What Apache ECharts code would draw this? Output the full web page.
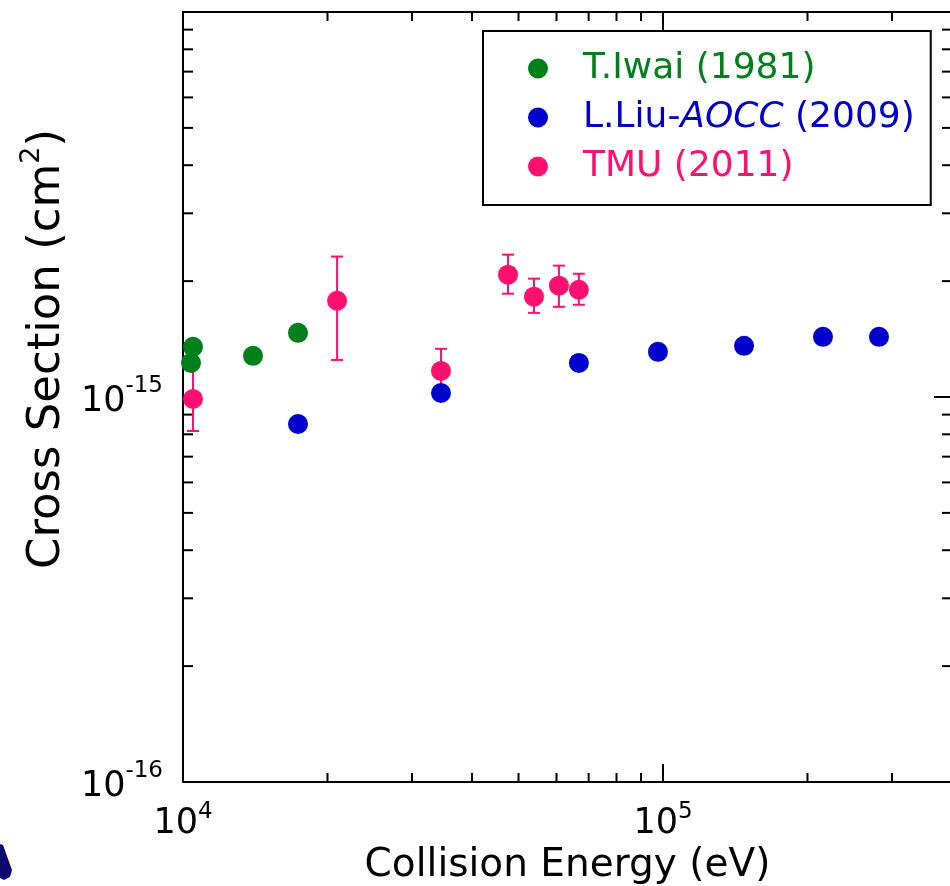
<!DOCTYPE html>
<html>
<head>
<meta charset="utf-8">
<script src="https://cdn.jsdelivr.net/npm/echarts@6/dist/echarts.min.js"></script>
<style>html,body{margin:0;padding:0;background:#fff}#c{width:950px;height:886px}</style>
</head>
<body>
<div id="c"></div>
<script>
// ---- data ----
const iwaiE  = [10490, 10390, 13990, 17360];
const iwaiCS = [1.35e-15, 1.226e-15, 1.279e-15, 1.468e-15];

const liuE  = [17360, 34470, 66800, 97600, 147500, 215400, 281800];
const liuCS = [0.851e-15, 1.024e-15, 1.226e-15, 1.31e-15, 1.358e-15, 1.433e-15, 1.433e-15];

const tmuE    = [10490, 20940, 34470, 47550, 53860, 60700, 66800];
const tmuCS   = [0.988e-15, 1.778e-15, 1.169e-15, 2.079e-15, 1.822e-15, 1.946e-15, 1.899e-15];
const tmuLow  = [0.816e-15, 1.248e-15, 1.024e-15, 1.855e-15, 1.654e-15, 1.715e-15, 1.736e-15];
const tmuHigh = [1.197e-15, 2.316e-15, 1.334e-15, 2.343e-15, 2.030e-15, 2.194e-15, 2.090e-15];

const seriesNames = ['T.Iwai (1981)', 'L.Liu-AOCC (2009)', 'TMU (2011)'];

const xMin = 1e4, xMax = 4e5, yMin = 1e-16, yMax = 1e-14;
const xMajorTicks = [1e4, 1e5];
const xMinorTicks = [2e4, 3e4, 4e4, 5e4, 6e4, 7e4, 8e4, 9e4, 2e5, 3e5];
const yMajorTicks = [1e-16, 1e-15, 1e-14];
const yMinorTicks = [2e-16, 3e-16, 4e-16, 5e-16, 6e-16, 7e-16, 8e-16, 9e-16,
                     2e-15, 3e-15, 4e-15, 5e-15, 6e-15, 7e-15, 8e-15, 9e-15];

// ---- styling ----
const FONT = 'DejaVu Sans';
const GREEN = '#00801a', BLUE = '#0000cc', PINK = '#ff0f6e';

const zip = (a, b) => a.map((v, i) => [v, b[i]]);
const isDecade = v => Math.abs(Math.log10(v) - Math.round(Math.log10(v))) < 1e-6;

const chart = echarts.init(document.getElementById('c'), null, {renderer: 'canvas'});

const xTickData = xMajorTicks.map(v => [v, yMin, 1]).concat(xMinorTicks.map(v => [v, yMin, 0]));
const yTickData = yMajorTicks.map(v => [xMin, v, 1]).concat(yMinorTicks.map(v => [xMin, v, 0]));

function tickStyle() { return {stroke: '#000', lineWidth: 2}; }

const LFS = 36;
const option = {
  backgroundColor: '#fff',
  animation: false,
  textStyle: {fontFamily: FONT},
  grid: {left: 183, top: 12, width: 769, height: 770, show: true,
         containLabel: false, outerBoundsMode: 'none',
         borderColor: '#000', borderWidth: 2, backgroundColor: 'transparent'},
  xAxis: {
    type: 'log', logBase: 10, min: xMin, max: xMax,
    axisLine: {show: false}, axisTick: {show: false}, splitLine: {show: false},
    axisLabel: {
      margin: 19,
      formatter: v => isDecade(v) ? '{b|10}{s|' + Math.round(Math.log10(v)) + '}' : '',
      rich: {
        b: {fontFamily: FONT, fontSize: 35, color: '#000', lineHeight: 40, verticalAlign: 'bottom'},
        s: {fontFamily: FONT, fontSize: 23, color: '#000', lineHeight: 40, verticalAlign: 'top'}
      }
    },
    name: 'Collision Energy (eV)', nameLocation: 'middle', nameGap: 64,
    nameTextStyle: {fontFamily: FONT, fontSize: 39, color: '#000'}
  },
  yAxis: {
    type: 'log', logBase: 10, min: yMin, max: yMax,
    axisLine: {show: false}, axisTick: {show: false}, splitLine: {show: false},
    axisLabel: {
      margin: 20,
      formatter: v => isDecade(v) && Math.abs(v - yMax) / yMax > 1e-6
        ? '{b|10}{s|' + Math.round(Math.log10(v)) + '}' : '',
      rich: {
        b: {fontFamily: FONT, fontSize: 35, color: '#000', lineHeight: 44, verticalAlign: 'bottom'},
        s: {fontFamily: FONT, fontSize: 23, color: '#000', lineHeight: 44, verticalAlign: 'top'}
      }
    }
  },
  legend: {
    orient: 'vertical', left: 483, top: 31,
    padding: [19, 16, 20, 45],
    itemWidth: 20, itemHeight: 20, itemGap: 12,
    borderColor: '#000', borderWidth: 2, backgroundColor: '#fff',
    icon: 'circle',
    data: [
      {name: seriesNames[0]},
      {name: seriesNames[1]},
      {name: seriesNames[2]}
    ],
    formatter: name => {
      if (name === seriesNames[0]) return '{sp|}{g|' + name + '}';
      if (name === seriesNames[1]) return '{sp|}{b|L.Liu-}{bi|AOCC}{b| (2009)}';
      return '{sp|}{p|' + name + '}';
    },
    textStyle: {fontFamily: FONT, fontSize: LFS, lineHeight: 37,
      rich: {
        sp: {width: 30, lineHeight: 37},
        g: {fontFamily: FONT, fontSize: LFS, color: GREEN, lineHeight: 37},
        b: {fontFamily: FONT, fontSize: LFS, color: BLUE, lineHeight: 37},
        bi: {fontFamily: FONT, fontSize: LFS, color: BLUE, fontStyle: 'italic', lineHeight: 37},
        p: {fontFamily: FONT, fontSize: LFS, color: PINK, lineHeight: 37}
      }
    }
  },
  graphic: [
    {
      type: 'text', z: 10,
      rotation: Math.PI / 2,
      x: 44, y: 349,
      style: {
        text: '{t|Cross Section (cm}{s|2}{t|)}',
        rich: {
          t: {fontFamily: FONT, fontSize: 45, fill: '#000', lineHeight: 52, verticalAlign: 'bottom'},
          s: {fontFamily: FONT, fontSize: 27, fill: '#000', lineHeight: 52, verticalAlign: 'top'}
        },
        align: 'center', verticalAlign: 'middle'
      }
    },
    {
      type: 'polygon', z: 10,
      shape: {points: [[0, 844], [3, 845], [12, 870], [10, 877], [4, 880], [0, 878]]},
      style: {fill: '#0c0a6e'}
    }
  ],
  series: [
    {
      type: 'custom', name: 'xticks', silent: true, clip: false, z: 5,
      data: xTickData,
      renderItem: (params, api) => {
        const v = api.value(0), major = api.value(2);
        const len = major ? 18 : 9;
        const b = api.coord([v, yMin]), t = api.coord([v, yMax]);
        return {type: 'group', children: [
          {type: 'line', shape: {x1: b[0], y1: b[1], x2: b[0], y2: b[1] - len}, style: tickStyle()},
          {type: 'line', shape: {x1: t[0], y1: t[1], x2: t[0], y2: t[1] + len}, style: tickStyle()}
        ]};
      }
    },
    {
      type: 'custom', name: 'yticks', silent: true, clip: false, z: 5,
      data: yTickData,
      renderItem: (params, api) => {
        const v = api.value(1), major = api.value(2);
        const len = major ? 18 : 10;
        const l = api.coord([xMin, v]), r = api.coord([xMax, v]);
        return {type: 'group', children: [
          {type: 'line', shape: {x1: l[0], y1: l[1], x2: l[0] + len, y2: l[1]}, style: tickStyle()},
          {type: 'line', shape: {x1: r[0], y1: r[1], x2: r[0] - len, y2: r[1]}, style: tickStyle()}
        ]};
      }
    },
    {
      type: 'custom', name: 'tmuErr', silent: true, z: 6,
      data: tmuE.map((e, i) => [e, tmuLow[i], tmuHigh[i]]),
      renderItem: (params, api) => {
        const lo = api.coord([api.value(0), api.value(1)]);
        const hi = api.coord([api.value(0), api.value(2)]);
        const w = 6;
        const st = {stroke: PINK, lineWidth: 2};
        return {type: 'group', children: [
          {type: 'line', shape: {x1: lo[0], y1: lo[1], x2: hi[0], y2: hi[1]}, style: st},
          {type: 'line', shape: {x1: lo[0] - w, y1: lo[1], x2: lo[0] + w, y2: lo[1]}, style: st},
          {type: 'line', shape: {x1: hi[0] - w, y1: hi[1], x2: hi[0] + w, y2: hi[1]}, style: st}
        ]};
      }
    },
    {type: 'scatter', name: seriesNames[2], data: zip(tmuE, tmuCS), symbol: 'circle', symbolSize: 20,
     itemStyle: {color: PINK, opacity: 1}, z: 7},
    {type: 'scatter', name: seriesNames[1], data: zip(liuE, liuCS), symbol: 'circle', symbolSize: 20,
     itemStyle: {color: BLUE, opacity: 1}, z: 8},
    {type: 'scatter', name: seriesNames[0], data: zip(iwaiE, iwaiCS), symbol: 'circle', symbolSize: 20,
     itemStyle: {color: GREEN, opacity: 1}, z: 9}
  ]
};
chart.setOption(option);
</script>
</body>
</html>
